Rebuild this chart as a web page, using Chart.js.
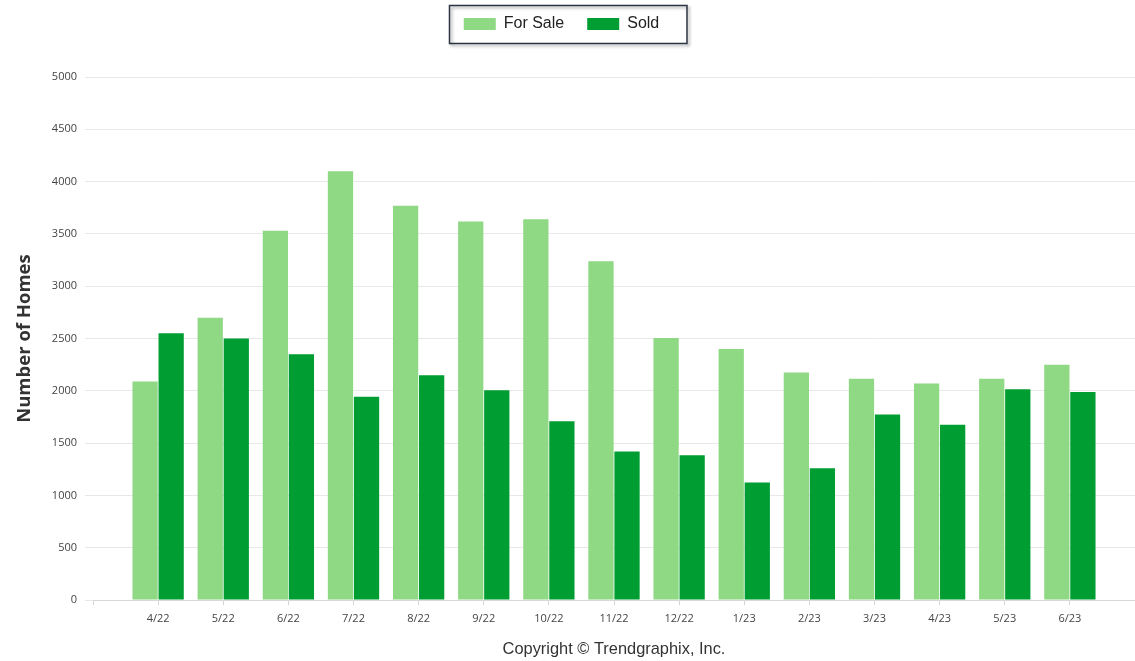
<!DOCTYPE html>
<html><head><meta charset="utf-8">
<script src="https://cdn.jsdelivr.net/npm/chart.js@4"></script>
<style>html,body{margin:0;padding:0;background:#fff;overflow:hidden}#wrap{width:1135px;height:661px;position:relative}</style>
</head><body><div id="wrap"><canvas id="c" width="1135" height="661"></canvas></div>
<script>
const categories = ['4/22','5/22','6/22','7/22','8/22','9/22','10/22','11/22','12/22','1/23','2/23','3/23','4/23','5/23','6/23'];
const forSale = [2090,2700,3530,4100,3770,3620,3640,3240,2505,2400,2175,2115,2070,2115,2250];
const sold = [2550,2500,2350,1945,2150,2005,1710,1420,1385,1125,1260,1775,1675,2015,1990];
const seriesNames = ['For Sale','Sold'];
const yMin = 0, yMax = 5000, yStep = 500;
const yTitle = 'Number of Homes';
const copyright = 'Copyright \u00A9 Trendgraphix, Inc.';

// pad one empty category on each side (axis spans from one slot before to one slot after)
const labels = [''].concat(categories, ['']);
const pad = arr => [null].concat(arr, [null]);

const TOP_PAD = -7;
const PLOT_TOP = 77;
const LEGEND_SHIFT = -6;

const legendTweaks = {
  id: 'legendTweaks',
  beforeInit(chart) {
    const lg = chart.legend;
    if (!lg) return;
    const origFit = lg.fit.bind(lg);
    lg.fit = function () { origFit(); this.height = PLOT_TOP - TOP_PAD; };
    const origDraw = lg.draw.bind(lg);
    lg.draw = function () {
      const ctx = this.ctx;
      ctx.save();
      ctx.translate(LEGEND_SHIFT, 0);
      origDraw();
      ctx.restore();
    };
  },
  afterDraw(chart) {
    const hb = chart.legend && chart.legend.legendHitBoxes;
    if (!hb || !hb.length) return;
    const ctx = chart.ctx;
    const l = Math.min(...hb.map(h => h.left)) - 15 + LEGEND_SHIFT;
    const r = Math.max(...hb.map(h => h.left + h.width)) + 27 + LEGEND_SHIFT;
    const cy = hb[0].top + hb[0].height / 2;
    const t = cy - 19, b = cy + 19;
    ctx.save();
    ctx.shadowColor = 'rgba(0,0,0,0.35)';
    ctx.shadowOffsetX = 2; ctx.shadowOffsetY = 2; ctx.shadowBlur = 3;
    ctx.strokeStyle = '#2b3442';
    ctx.lineWidth = 1.5;
    ctx.strokeRect(Math.round(l) + 0.5, Math.round(t) + 0.5, r - l, b - t);
    ctx.restore();
  }
};

new Chart(document.getElementById('c'), {
  type: 'bar',
  data: {
    labels: labels,
    datasets: [
      { label: seriesNames[0], data: pad(forSale), backgroundColor: '#8fd884', borderWidth: 0, categoryPercentage: 0.8, barPercentage: 0.97 },
      { label: seriesNames[1], data: pad(sold), backgroundColor: '#009e32', borderWidth: 0, categoryPercentage: 0.8, barPercentage: 0.97 }
    ]
  },
  options: {
    responsive: false,
    animation: false,
    layout: { padding: { top: TOP_PAD, left: 0, right: 0, bottom: 0 } },
    plugins: {
      legend: {
        position: 'top',
        labels: {
          boxWidth: 32, boxHeight: 12, padding: 23,
          color: '#222', font: { family: 'Liberation Sans', size: 16 }
        }
      },
      title: {
        display: true, position: 'bottom', fullSize: false, text: copyright,
        color: '#333', font: { family: 'Liberation Sans', size: 16.4, weight: 'normal' },
        padding: { top: 7, bottom: 2 }
      },
      tooltip: { enabled: false }
    },
    scales: {
      x: {
        offset: false,
        afterFit(scale) { scale.paddingRight = 0; },
        grid: { display: true, offset: false, drawOnChartArea: false, drawTicks: true, tickLength: 5, color: '#d6d6d6' },
        border: { display: true, color: '#d8d8d8', width: 1 },
        ticks: { autoSkip: false, maxRotation: 0, padding: 7, color: '#444', font: { family: 'Open Sans', size: 11 } }
      },
      y: {
        min: yMin, max: yMax,
        afterFit(scale) { scale.width = 93; },
        grid: { color: '#e8e8e8', lineWidth: 1, drawTicks: true, tickLength: 8 },
        border: { display: false },
        ticks: { stepSize: yStep, padding: 8, color: '#444', font: { family: 'Open Sans', size: 11 }, callback: v => String(v) },
        title: { display: true, text: yTitle, color: '#333', font: { family: 'Open Sans', size: 18.5, weight: 'bold' }, padding: { top: 14, bottom: 0 } }
      }
    }
  },
  plugins: [legendTweaks]
});
</script>
</body></html>
